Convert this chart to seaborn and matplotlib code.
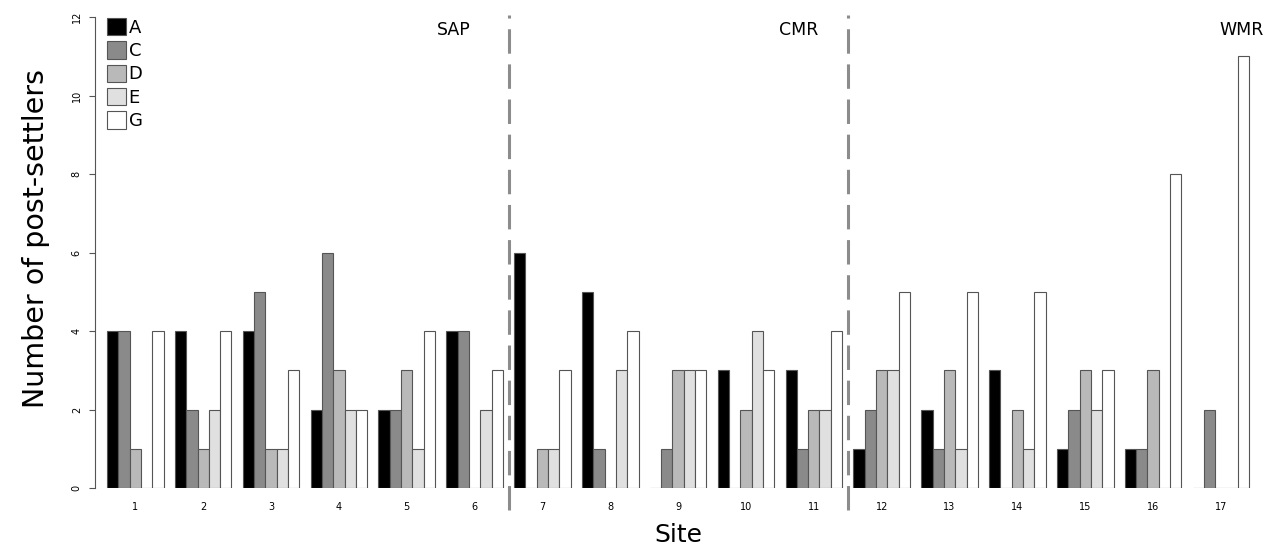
import matplotlib
matplotlib.use("Agg")
import matplotlib.pyplot as plt
from matplotlib.patches import Patch
import numpy as np
import pandas as pd
import seaborn as sns

# ---- data ----
sites = [str(i) for i in range(1, 18)]
groups = ["A", "C", "D", "E", "G"]
A = [4, 4, 4, 2, 2, 4, 6, 5, 0, 3, 3, 1, 2, 3, 1, 1, 0]
C = [4, 2, 5, 6, 2, 4, 0, 1, 1, 0, 1, 2, 1, 0, 2, 1, 2]
D = [1, 1, 1, 3, 3, 0, 1, 0, 3, 2, 2, 3, 3, 2, 3, 3, 0]
E = [0, 2, 1, 2, 1, 2, 1, 3, 3, 4, 2, 3, 1, 1, 2, 0, 0]
G = [4, 4, 3, 2, 4, 3, 3, 4, 3, 3, 4, 5, 5, 5, 3, 8, 11]
regions = ["SAP", "CMR", "WMR"]
region_last_site = [6, 11, 17]
yticks = [0, 2, 4, 6, 8, 10, 12]

colors = ["#000000", "#8a8a8a", "#b9b9b9", "#e0e0e0", "#ffffff"]
edge = "#555555"

series = {"A": A, "C": C, "D": D, "E": E, "G": G}
rows = []
for g in groups:
    for s, v in zip(sites, series[g]):
        rows.append({"Site": s, "Group": g, "Count": v})
df = pd.DataFrame(rows)

sns.set_style("white")
plt.rcParams["font.family"] = ["DejaVu Sans"]
for k in ["text.color", "axes.labelcolor", "xtick.color", "ytick.color"]:
    plt.rcParams[k] = "black"

W, H = 1275, 552
fig = plt.figure(figsize=(W / 100, H / 100), dpi=100)
ax = fig.add_axes([95 / W, (H - 488) / H, 1166 / W, 471 / H])

sns.barplot(data=df, x="Site", y="Count", hue="Group", order=sites,
            hue_order=groups, palette=colors, saturation=1, width=5 / 6,
            edgecolor=edge, linewidth=0.8, errorbar=None, legend=False, ax=ax)

ax.set_xlim(-0.594, 16.59)
ax.set_ylim(0, 12)

# axes styling
for sp in ["top", "right", "bottom"]:
    ax.spines[sp].set_visible(False)
ax.spines["left"].set_bounds(0, 12)
ax.spines["left"].set_color("#555555")
ax.spines["left"].set_linewidth(0.8)

ax.set_yticks(yticks)
ax.set_yticklabels([str(t) for t in yticks], rotation=90, va="center")
ax.tick_params(axis="y", length=4.5, width=0.8, color="#555555", pad=5,
               labelsize=7, left=True)
ax.tick_params(axis="x", length=0, pad=10, labelsize=7)

ax.set_xlabel("Site", fontsize=18)
ax.set_ylabel("Number of post-settlers", fontsize=20.5)
ax.xaxis.set_label_coords(0.5, -0.075)
ax.yaxis.set_label_coords(-0.0386, 0.53)

# region separators and labels
label_right_x = [4.94, 10.06, 16.63]
for i, (name, last) in enumerate(zip(regions, region_last_site)):
    xpos = sites.index(str(last))
    if i < len(regions) - 1:
        ax.plot([xpos + 0.5, xpos + 0.5], [-0.56, 12.05], color="#8c8c8c",
                lw=2.2, ls=(0, (8, 3.5)), clip_on=False, zorder=5)
    ax.text(label_right_x[i], 11.67, name, ha="right", va="center",
            fontsize=12.5, clip_on=False)

handles = [Patch(facecolor=c, edgecolor=edge, linewidth=0.8, label=g)
           for g, c in zip(groups, colors)]
ax.legend(handles=handles, loc="upper left", bbox_to_anchor=(0.0103, 0.998),
          frameon=False, fontsize=13, handlelength=1.05, handleheight=1.1,
          handletextpad=0.15, labelspacing=0.25, borderpad=0, borderaxespad=0)

fig.savefig("out.png", dpi=100, facecolor="white")
